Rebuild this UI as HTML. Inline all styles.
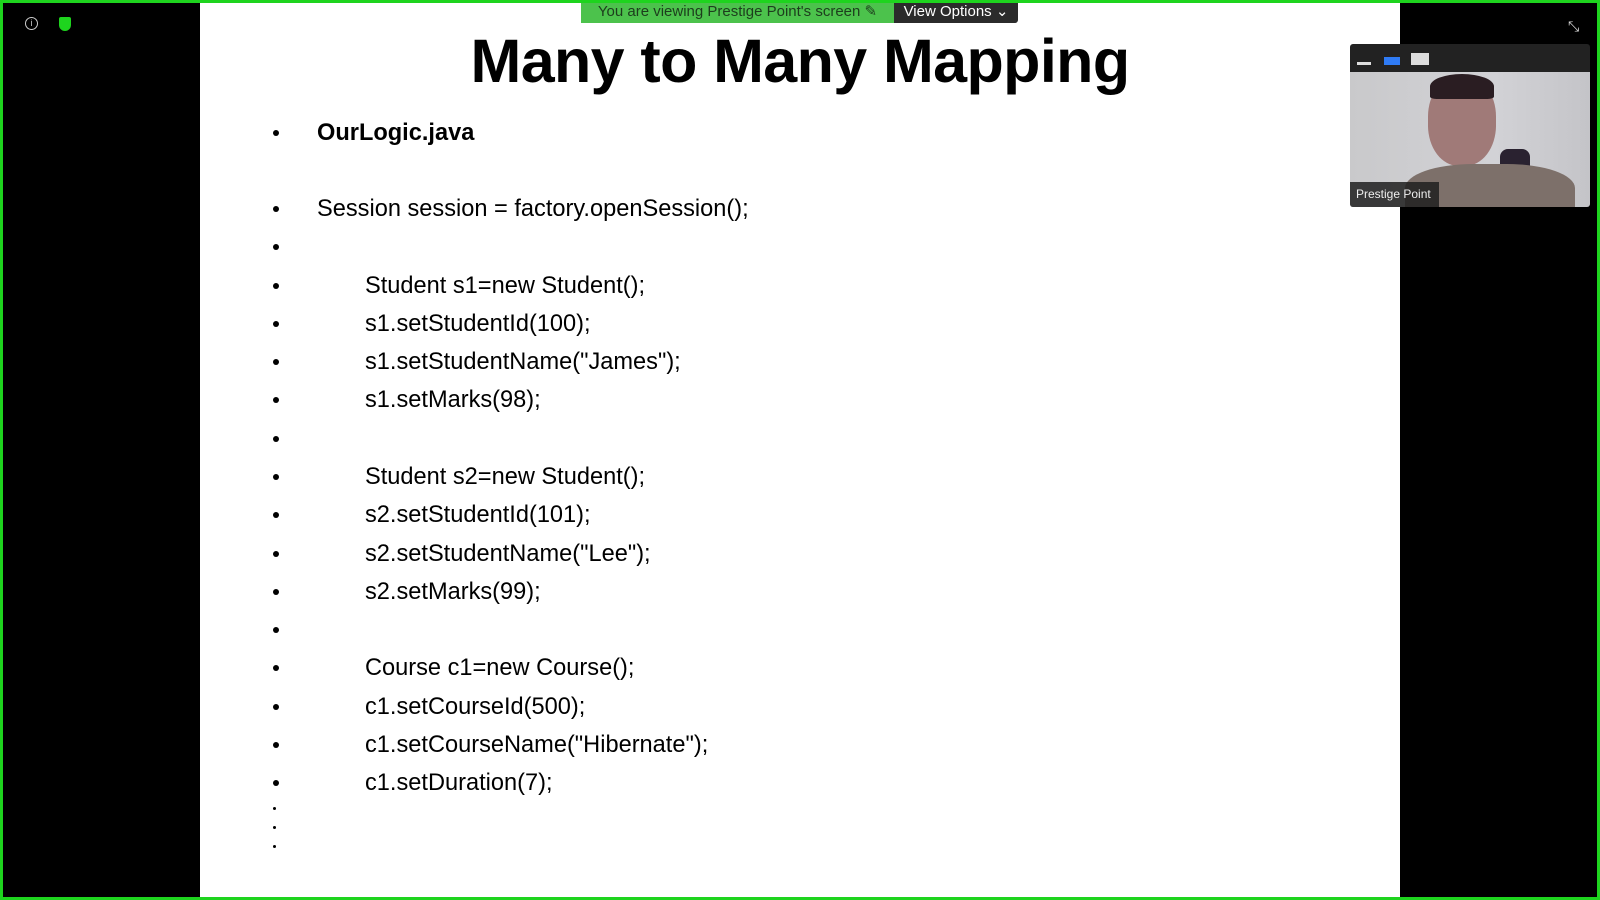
<!DOCTYPE html>
<html><head><style>
html,body{margin:0;padding:0}
body{width:1600px;height:900px;position:relative;overflow:hidden;background:#000;font-family:"Liberation Sans",sans-serif}
.border{position:absolute;left:0;top:0;width:1594px;height:894px;border:3px solid #1ed41e}
.slide{position:absolute;left:200px;top:3px;width:1200px;height:894px;background:#fff}
.title{position:absolute;left:0;width:1600px;top:26px;text-align:center;font-weight:bold;font-size:61px;color:#000;letter-spacing:-0.6px}
.row{position:absolute;font-size:23.6px;color:#000;line-height:26px}
.b{position:absolute;left:273px;width:6px;height:6px;border-radius:50%;background:#000}
.d{position:absolute;left:273px;width:3px;height:3px;border-radius:50%;background:#000}
</style></head><body>
<div class="slide"></div>
<div class="title">Many to Many Mapping</div>

<div class="b" style="top:130px"></div><div class="row" style="left:317px;top:120px;font-weight:bold">OurLogic.java</div>
<div class="b" style="top:206px"></div><div class="row" style="left:317px;top:196px">Session session = factory.openSession();</div>
<div class="b" style="top:244px"></div>
<div class="b" style="top:283px"></div><div class="row" style="left:365px;top:273px">Student s1=new Student();</div>
<div class="b" style="top:321px"></div><div class="row" style="left:365px;top:311px">s1.setStudentId(100);</div>
<div class="b" style="top:359px"></div><div class="row" style="left:365px;top:349px">s1.setStudentName("James");</div>
<div class="b" style="top:397px"></div><div class="row" style="left:365px;top:387px">s1.setMarks(98);</div>
<div class="b" style="top:436px"></div>
<div class="b" style="top:474px"></div><div class="row" style="left:365px;top:464px">Student s2=new Student();</div>
<div class="b" style="top:512px"></div><div class="row" style="left:365px;top:502px">s2.setStudentId(101);</div>
<div class="b" style="top:551px"></div><div class="row" style="left:365px;top:541px">s2.setStudentName("Lee");</div>
<div class="b" style="top:589px"></div><div class="row" style="left:365px;top:579px">s2.setMarks(99);</div>
<div class="b" style="top:627px"></div>
<div class="b" style="top:665px"></div><div class="row" style="left:365px;top:655px">Course c1=new Course();</div>
<div class="b" style="top:704px"></div><div class="row" style="left:365px;top:694px">c1.setCourseId(500);</div>
<div class="b" style="top:742px"></div><div class="row" style="left:365px;top:732px">c1.setCourseName("Hibernate");</div>
<div class="b" style="top:780px"></div><div class="row" style="left:365px;top:770px">c1.setDuration(7);</div>
<div class="d" style="top:807px"></div><div class="d" style="top:826px"></div><div class="d" style="top:845px"></div>

<div style="position:absolute;left:581px;top:0;width:313px;height:23px;background:#4cc24c;color:#1d3d1d;font-size:15px;line-height:23px;text-align:center">You are viewing Prestige Point's screen ✎</div>
<div style="position:absolute;left:894px;top:0;width:124px;height:23px;background:#2b2b2b;color:#fff;font-size:15px;line-height:23px;text-align:center;border-radius:0 0 3px 0">View Options ⌄</div>

<div style="position:absolute;left:25px;top:17px;width:11px;height:11px;border:1.5px solid #ccc;border-radius:50%;color:#ccc;font-size:9px;line-height:11px;text-align:center">i</div>
<div style="position:absolute;left:59px;top:17px;width:12px;height:14px;background:#1ed41e;border-radius:2px 2px 6px 6px"></div>
<div style="position:absolute;left:1568px;top:18px;color:#ddd;font-size:14px">⤡</div>

<div style="position:absolute;left:1350px;top:44px;width:240px;height:163px;background:#222;border-radius:3px;overflow:hidden">
  <div style="position:absolute;left:7px;top:18px;width:14px;height:3px;background:#ddd"></div>
  <div style="position:absolute;left:34px;top:13px;width:16px;height:8px;background:#2f7bf5"></div>
  <div style="position:absolute;left:61px;top:9px;width:18px;height:12px;background:#ddd"></div>
  <div style="position:absolute;left:0;top:28px;width:240px;height:135px;background:linear-gradient(90deg,#c9c9cb,#d2d2d6 60%,#c4c4c8)"></div>
  <div style="position:absolute;left:78px;top:32px;width:68px;height:90px;border-radius:45%;background:#a07a78"></div>
  <div style="position:absolute;left:80px;top:30px;width:64px;height:25px;border-radius:50% 50% 10% 10%;background:#2a1d22"></div>
  <div style="position:absolute;left:150px;top:105px;width:30px;height:45px;border-radius:8px;background:#2a2230"></div>
  <div style="position:absolute;left:55px;top:120px;width:170px;height:60px;border-radius:40% 40% 0 0;background:#7d706a"></div>
  <div style="position:absolute;left:0;top:138px;width:89px;height:25px;background:rgba(30,30,30,.85);color:#eee;font-size:12px;line-height:25px;padding-left:6px;box-sizing:border-box">Prestige Point</div>
</div>
<div class="border"></div>
</body></html>
